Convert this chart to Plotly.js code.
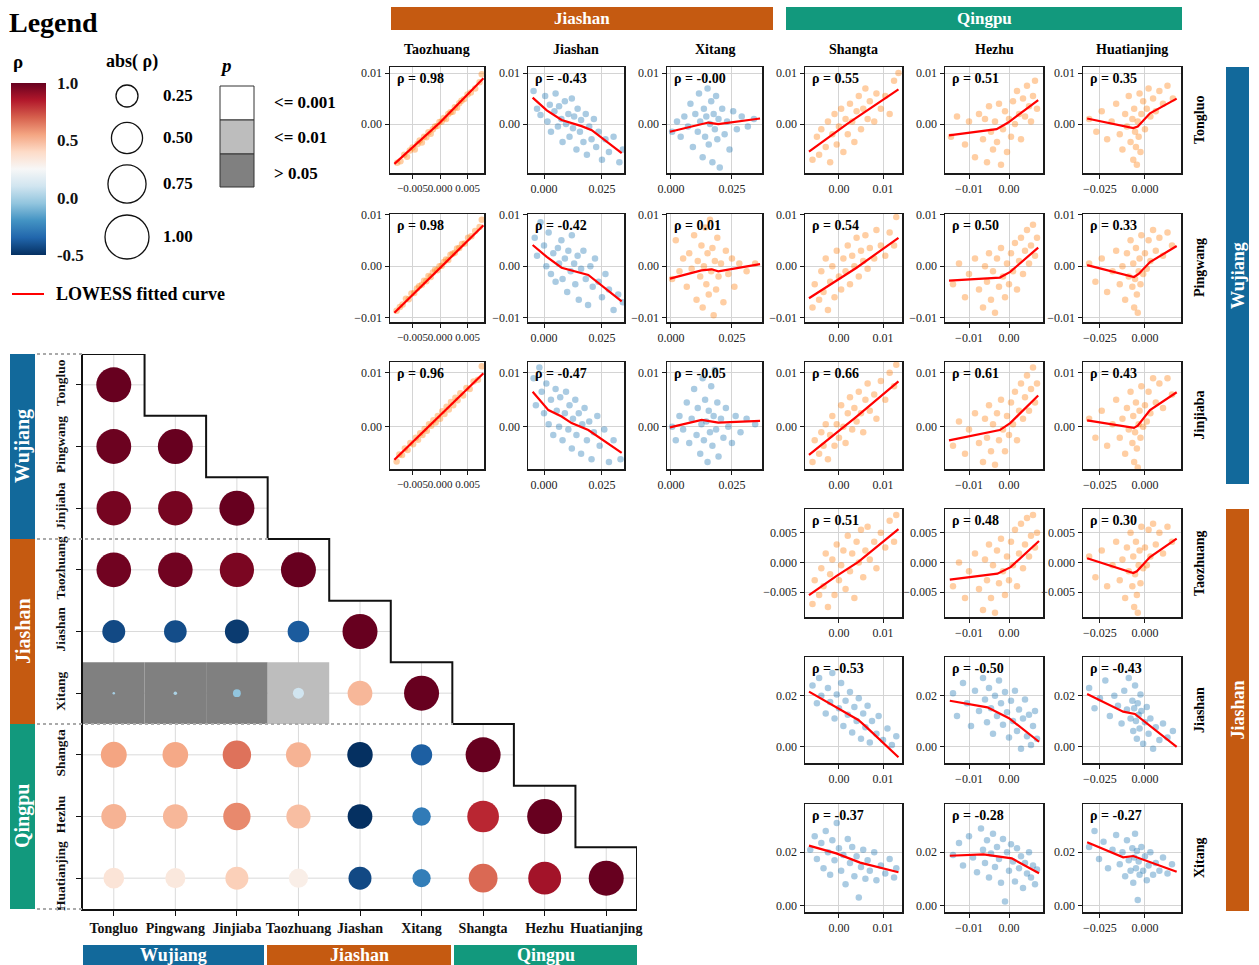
<!DOCTYPE html>
<html><head><meta charset="utf-8">
<script src="https://cdn.plot.ly/plotly-3.0.1.min.js"></script>
<style>html,body{margin:0;padding:0;background:#fff}</style>
</head><body><div id="chart" style="width:1259px;height:965px"></div>
<script>
// ---------------- DATA ----------------
const stations = ['Tongluo','Pingwang','Jinjiaba','Taozhuang','Jiashan','Xitang','Shangta','Hezhu','Huatianjing'];
const groupNames = ['Wujiang','Jiashan','Qingpu'];
const groupColors = {Wujiang:'#12699b', Jiashan:'#c55a11', Qingpu:'#12997d'};

// lower-triangle Spearman rho (row = y station, col = x station)
const rhoMatrix = [
  [1.00],
  [0.99, 1.00],
  [0.97, 0.97, 1.00],
  [0.98, 0.98, 0.96, 1.00],
  [-0.43, -0.42, -0.47, -0.38, 1.00],
  [-0.003, 0.01, -0.05, 0.10, 0.50, 1.00],
  [0.55, 0.54, 0.66, 0.51, -0.53, -0.37, 1.00],
  [0.51, 0.50, 0.61, 0.48, -0.50, -0.28, 0.82, 1.00],
  [0.35, 0.33, 0.43, 0.30, -0.43, -0.27, 0.68, 0.88, 1.00]
];
// p-value class: 0 = <=0.001, 1 = <=0.01, 2 = >0.05
const pClassMatrix = [
  [0],[0,0],[0,0,0],[0,0,0,0],[0,0,0,0,0],
  [2,2,2,1,0,0],
  [0,0,0,0,0,0,0],[0,0,0,0,0,0,0,0],[0,0,0,0,0,0,0,0,0]
];
const legendRhoTicks = [-0.5, 0.0, 0.5, 1.0];
const legendAbsRho = [0.25, 0.50, 0.75, 1.00];
const legendP = ['<= 0.001', '<= 0.01', '> 0.05'];
const legendPColors = ['#ffffff', '#bdbdbd', '#808080'];

// scatter grids
const panelRowNames = ['Tongluo','Pingwang','Jinjiaba','Taozhuang','Jiashan','Xitang'];
const panelColNames = ['Taozhuang','Jiashan','Xitang','Shangta','Hezhu','Huatianjing'];
const rhoTongluo   = [0.98, -0.43, -0.004, 0.55, 0.51, 0.35];
const rhoPingwang  = [0.98, -0.42, 0.01, 0.54, 0.50, 0.33];
const rhoJinjiaba  = [0.96, -0.47, -0.05, 0.66, 0.61, 0.43];
const rhoTaozhuang = [0.51, 0.48, 0.30];
const rhoJiashan   = [-0.53, -0.50, -0.43];
const rhoXitang    = [-0.37, -0.28, -0.27];

// tick labels of the scatter panels
const colTicks = [[-0.005,0,0.005],[0,0.025],[0,0.025],[0,0.01],[-0.01,0],[-0.025,0]];
const colTickText = [['\u22120.005','0.000','0.005'],['0.000','0.025'],['0.000','0.025'],['0.00','0.01'],['\u22120.01','0.00'],['\u22120.025','0.000']];
const rowTicks = [[0,0.01],[-0.01,0,0.01],[0,0.01],[-0.005,0,0.005],[0,0.02],[0,0.02]];
const rowTickText = [['0.00','0.01'],['\u22120.01','0.00','0.01'],['0.00','0.01'],['\u22120.005','0.000','0.005'],['0.00','0.02'],['0.00','0.02']];

// scatter clouds, values in units of 1e-3  [x, y]
const pts_Tongluo_Taozhuang = [[-7.8,-7.6],[-7.2,-7.3],[-6.5,-6.0],[-6.0,-6.4],[-5.5,-5.2],[-5.0,-4.6],[-4.6,-5.0],[-4.1,-3.9],[-3.7,-3.2],[-3.3,-3.6],[-2.9,-2.5],[-2.5,-2.6],[-2.1,-1.6],[-1.7,-1.9],[-1.3,-1.0],[-0.9,-0.5],[-0.5,-0.4],[-0.1,0.4],[0.3,0.5],[0.7,1.2],[1.1,1.0],[1.5,2.0],[1.9,2.3],[2.3,2.4],[2.7,3.3],[3.1,3.2],[3.5,4.1],[3.9,4.6],[4.4,4.9],[5.0,5.8],[5.6,6.2],[6.4,7.0],[7.2,8.2],[7.6,9.8]];
const pts_Tongluo_Jiashan = [[-4.5,6.5],[-3.0,3.0],[-1.5,1.8],[0.5,5.5],[1.5,0.5],[2.5,3.8],[3.0,-1.5],[4.5,2.5],[5.0,6.0],[6.0,-0.5],[6.5,3.5],[7.5,1.0],[8.0,-3.5],[9.0,4.5],[9.5,0.0],[10.5,2.0],[11.0,-2.5],[12.0,5.0],[12.5,-0.8],[13.0,1.5],[14.0,-5.0],[14.5,3.0],[15.5,-1.5],[16.0,0.8],[17.0,-3.5],[18.0,2.0],[18.5,-6.0],[19.5,-0.5],[20.5,-3.0],[21.5,1.0],[22.5,-4.5],[23.5,-1.5],[25.0,-7.0],[26.5,-3.0],[28.0,-5.5],[30.0,-2.5],[32.5,-7.5],[34.0,-5.0]];
const pts_Tongluo_Xitang = [[0.5,-1.5],[2.5,0.5],[4.0,-2.5],[5.5,1.5],[7.0,-0.5],[8.0,4.0],[9.0,-4.5],[10.0,2.0],[11.0,-1.5],[11.5,6.0],[12.0,0.5],[13.0,-6.5],[13.5,3.0],[14.0,-2.5],[14.5,1.5],[15.0,7.0],[15.5,-4.0],[16.0,0.0],[16.5,4.5],[17.0,-7.5],[17.5,2.0],[18.0,-1.0],[18.5,5.5],[19.0,-3.0],[19.5,1.0],[20.0,-8.5],[21.0,3.0],[22.0,-2.0],[23.0,0.5],[24.0,-5.0],[25.5,2.5],[27.0,-1.0],[29.0,1.5],[31.5,-0.5],[34.0,1.0]];
const pts_Tongluo_Shangta = [[-6.0,-7.0],[-5.0,-2.5],[-4.5,-6.0],[-4.0,-1.0],[-3.0,-4.5],[-2.5,0.5],[-2.0,-7.5],[-1.5,-2.0],[-1.0,2.0],[-0.5,-4.0],[0.0,-0.5],[0.5,3.0],[1.0,-5.5],[1.5,1.0],[2.0,-2.0],[2.5,4.0],[3.0,0.5],[3.5,-3.5],[4.0,2.5],[4.5,5.5],[5.0,-1.0],[5.5,3.0],[6.0,7.0],[6.5,1.0],[7.0,4.5],[8.0,0.5],[8.5,6.0],[9.5,3.0],[10.5,5.5],[11.5,2.0],[12.5,8.5],[13.5,10.0]];
const pts_Tongluo_Hezhu = [[-14.5,-2.5],[-13.0,1.5],[-11.0,-4.0],[-10.0,0.5],[-8.5,-6.5],[-7.5,2.0],[-6.5,-3.0],[-6.0,1.0],[-5.5,-7.5],[-5.0,3.5],[-4.5,-1.5],[-4.0,-5.0],[-3.5,0.5],[-3.0,-3.5],[-2.5,4.0],[-2.0,-8.0],[-1.5,-1.0],[-1.0,2.5],[-0.5,-5.5],[0.0,1.0],[0.5,-2.5],[1.0,4.5],[1.5,0.0],[2.0,6.5],[2.5,2.0],[3.0,-3.0],[3.5,5.0],[4.0,1.5],[4.5,7.5],[5.0,3.5],[5.5,0.5],[6.0,5.5],[6.5,8.5],[7.0,3.0]];
const pts_Tongluo_Huatianjing = [[-31.0,1.0],[-27.0,-1.5],[-24.0,2.5],[-21.0,-3.0],[-18.5,0.5],[-16.0,4.0],[-14.0,-2.0],[-12.5,-5.0],[-11.0,2.0],[-10.0,-0.5],[-9.0,5.5],[-8.0,-3.5],[-7.0,1.0],[-6.5,-7.0],[-6.0,3.0],[-5.5,-1.5],[-5.0,-4.5],[-4.5,-8.0],[-4.0,0.5],[-3.5,-2.5],[-3.0,6.0],[-2.5,-5.5],[-2.0,2.0],[-1.0,4.5],[0.0,-1.0],[1.0,3.0],[2.0,7.0],[3.0,1.5],[4.5,5.0],[6.0,2.5],[8.0,6.5],[10.0,4.0],[12.5,7.5],[15.5,5.0]];

const pts_Pingwang_Taozhuang = [[-7.9,-8.6],[-7.3,-7.9],[-6.8,-7.4],[-6.2,-6.3],[-5.7,-6.4],[-5.2,-5.3],[-4.7,-5.2],[-4.2,-4.3],[-3.8,-3.9],[-3.3,-3.6],[-2.9,-2.8],[-2.5,-2.9],[-2.1,-1.9],[-1.7,-2.1],[-1.3,-1.2],[-0.9,-0.7],[-0.5,-0.8],[-0.1,0.0],[0.3,0.1],[0.7,0.8],[1.1,1.3],[1.5,1.2],[1.9,2.2],[2.3,2.4],[2.7,2.6],[3.1,3.4],[3.5,3.5],[4.0,4.3],[4.5,4.4],[5.1,5.5],[5.7,5.8],[6.4,6.8],[7.2,7.6],[7.6,9.0]];
const pts_Pingwang_Jiashan = [[-4.0,5.5],[-3.0,2.0],[-1.5,8.5],[0.0,4.0],[1.0,0.0],[2.0,6.5],[3.0,-1.5],[4.0,2.5],[5.0,-3.0],[6.0,3.5],[6.5,0.5],[7.5,5.0],[8.0,-2.5],[9.0,1.5],[10.0,-5.0],[10.5,3.0],[11.5,-1.0],[12.0,6.0],[13.0,0.5],[13.5,-3.5],[14.5,2.0],[15.0,-6.5],[16.0,-0.5],[17.0,3.0],[18.0,-2.5],[19.0,-7.5],[20.0,0.0],[21.0,-4.0],[22.0,1.5],[23.5,-3.0],[25.0,-6.0],[26.5,-1.5],[28.0,-4.5],[30.0,-8.5],[32.0,-5.5],[34.0,-7.0]];
const pts_Pingwang_Xitang = [[0.5,-2.5],[2.0,5.0],[3.5,-1.0],[5.0,1.5],[6.5,-4.0],[7.5,2.5],[8.5,-0.5],[9.5,6.0],[10.5,-6.5],[11.0,1.0],[12.0,-2.0],[12.5,4.0],[13.0,-8.0],[13.5,0.0],[14.0,7.5],[14.5,-3.5],[15.0,2.5],[15.5,-5.5],[16.0,9.0],[16.5,-1.0],[17.0,3.5],[17.5,-9.5],[18.0,1.0],[18.5,-4.5],[19.0,5.5],[19.5,-2.0],[20.5,0.5],[21.5,-7.0],[22.5,3.0],[23.5,-1.5],[25.0,1.5],[26.0,-4.0],[28.0,0.5],[31.0,-1.0],[34.5,0.5]];
const pts_Pingwang_Shangta = [[-6.0,-8.0],[-5.5,-3.5],[-4.5,-6.5],[-4.0,-1.0],[-3.5,-5.0],[-3.0,1.5],[-2.5,-8.5],[-2.0,-3.0],[-1.5,0.0],[-1.0,-6.0],[-0.5,3.0],[0.0,-2.0],[0.5,-4.5],[1.0,1.5],[1.5,-1.0],[2.0,4.0],[2.5,-3.5],[3.0,2.0],[3.5,0.0],[4.0,5.5],[4.5,-2.0],[5.0,3.0],[5.5,1.0],[6.0,6.0],[6.5,-0.5],[7.0,3.5],[8.0,1.5],[8.5,7.0],[9.5,4.0],[10.5,2.0],[11.5,6.5],[12.5,4.0],[13.0,9.5]];
const pts_Pingwang_Hezhu = [[-14.0,-3.5],[-12.5,0.5],[-11.0,-6.0],[-10.0,-1.5],[-8.5,1.5],[-7.5,-4.5],[-6.5,-8.0],[-6.0,0.0],[-5.5,-3.0],[-5.0,2.5],[-4.5,-6.5],[-4.0,-1.0],[-3.5,-9.0],[-3.0,1.5],[-2.5,-4.0],[-2.0,3.5],[-1.5,-2.0],[-1.0,-6.0],[-0.5,0.5],[0.0,-3.5],[0.5,2.5],[1.0,-1.0],[1.5,4.5],[2.0,-4.5],[2.5,1.0],[3.0,5.5],[3.5,-1.5],[4.0,3.0],[4.5,7.0],[5.0,0.5],[5.5,4.0],[6.0,8.0],[6.5,2.0],[7.0,5.5]];
const pts_Pingwang_Huatianjing = [[-31.0,0.5],[-27.5,-3.0],[-24.0,1.5],[-21.0,-5.0],[-18.0,-1.0],[-16.0,3.0],[-14.0,-3.5],[-12.5,0.0],[-11.0,-6.5],[-10.0,2.5],[-9.0,-2.0],[-8.0,5.0],[-7.0,-4.0],[-6.5,0.5],[-6.0,-8.0],[-5.5,-2.5],[-5.0,3.5],[-4.5,-5.5],[-4.0,-9.0],[-3.5,-1.0],[-3.0,1.5],[-2.5,-3.5],[-2.0,6.0],[-1.0,-1.5],[0.0,2.5],[1.0,-0.5],[2.0,5.0],[3.0,1.0],[4.5,7.0],[6.0,3.0],[8.0,5.5],[10.0,2.0],[12.5,6.5],[15.0,4.0]];

const pts_Jinjiaba_Taozhuang = [[-7.9,-6.4],[-7.4,-5.1],[-6.9,-5.2],[-6.4,-4.0],[-5.9,-4.3],[-5.4,-3.0],[-4.9,-3.2],[-4.4,-2.0],[-4.0,-2.4],[-3.6,-1.2],[-3.2,-1.5],[-2.8,-0.4],[-2.4,-0.7],[-2.0,0.5],[-1.6,0.2],[-1.2,1.2],[-0.8,0.8],[-0.4,2.0],[0.0,1.5],[0.4,2.9],[0.8,2.4],[1.2,3.7],[1.6,3.2],[2.0,4.6],[2.4,4.0],[2.8,5.4],[3.2,4.9],[3.7,6.2],[4.2,5.8],[4.8,7.2],[5.4,7.0],[6.1,8.4],[6.9,8.7],[7.6,11.2]];
const pts_Jinjiaba_Jiashan = [[-4.5,9.0],[-3.5,4.0],[-2.0,11.0],[-1.0,6.5],[0.0,2.5],[1.0,8.0],[2.0,0.5],[3.0,5.0],[4.0,-1.5],[5.0,7.0],[5.5,3.0],[6.5,0.0],[7.0,5.5],[8.0,-2.5],[9.0,2.5],[9.5,6.5],[10.5,-0.5],[11.0,4.0],[12.0,-4.0],[12.5,1.5],[13.5,5.0],[14.0,-1.5],[15.0,2.5],[16.0,-5.0],[16.5,0.5],[17.5,3.5],[18.5,-2.5],[19.5,1.0],[20.5,-6.0],[21.5,-1.0],[23.0,2.0],[24.0,-3.5],[26.0,-0.5],[28.0,-6.5],[30.0,-2.5],[33.0,-6.0]];
const pts_Jinjiaba_Xitang = [[0.5,0.0],[2.0,-2.5],[3.5,2.0],[5.0,-0.5],[6.5,4.5],[7.5,-3.0],[8.5,1.5],[9.5,7.0],[10.5,-1.5],[11.0,3.5],[12.0,-5.0],[12.5,0.5],[13.0,9.0],[13.5,-2.5],[14.0,5.0],[14.5,1.0],[15.0,-6.5],[15.5,3.0],[16.0,-1.0],[16.5,7.5],[17.0,-3.5],[17.5,2.0],[18.0,10.5],[18.5,-0.5],[19.0,4.5],[19.5,-5.5],[20.5,1.5],[21.5,-2.0],[22.5,3.5],[23.5,0.0],[25.0,-3.0],[26.5,2.0],[28.5,-1.0],[31.0,1.5],[34.5,0.5]];
const pts_Jinjiaba_Shangta = [[-6.0,-6.5],[-5.5,-2.5],[-4.5,-5.0],[-4.0,-1.0],[-3.5,-3.5],[-3.0,0.5],[-2.5,-6.0],[-2.0,-1.5],[-1.5,2.0],[-1.0,-3.5],[-0.5,0.5],[0.0,-2.0],[0.5,4.0],[1.0,0.0],[1.5,-3.0],[2.0,2.5],[2.5,5.5],[3.0,-0.5],[3.5,3.5],[4.0,1.0],[4.5,6.5],[5.0,2.5],[5.5,-1.0],[6.0,5.0],[6.5,8.0],[7.0,3.0],[8.0,6.0],[8.5,1.5],[9.5,8.5],[10.5,5.0],[11.5,10.0],[12.5,7.5],[13.0,11.5]];
const pts_Jinjiaba_Hezhu = [[-14.0,-3.5],[-12.5,1.0],[-11.0,-5.0],[-10.0,-0.5],[-8.5,2.5],[-7.5,-3.0],[-6.5,-6.5],[-6.0,1.5],[-5.5,-2.0],[-5.0,4.0],[-4.5,-4.5],[-4.0,0.5],[-3.5,-7.0],[-3.0,2.5],[-2.5,-2.5],[-2.0,5.0],[-1.5,-0.5],[-1.0,-4.5],[-0.5,2.0],[0.0,-1.5],[0.5,4.5],[1.0,0.5],[1.5,6.5],[2.0,-2.5],[2.5,3.0],[3.0,8.0],[3.5,1.5],[4.0,5.5],[4.5,9.5],[5.0,3.0],[5.5,7.0],[6.0,11.0],[6.5,4.5],[7.0,8.0]];
const pts_Jinjiaba_Huatianjing = [[-31.0,1.5],[-27.5,-2.0],[-24.0,3.0],[-21.0,-3.5],[-18.0,0.5],[-16.0,5.0],[-14.0,-2.0],[-12.5,1.5],[-11.0,-5.0],[-10.0,3.5],[-9.0,-0.5],[-8.0,6.5],[-7.0,-3.0],[-6.5,2.0],[-6.0,-6.5],[-5.5,-1.0],[-5.0,4.5],[-4.5,-4.0],[-4.0,-7.5],[-3.5,0.5],[-3.0,3.0],[-2.5,-2.0],[-2.0,7.5],[-1.0,0.0],[0.0,4.0],[1.0,1.0],[2.0,6.5],[3.0,2.5],[4.5,9.0],[6.0,4.5],[8.0,8.0],[10.0,3.5],[12.5,9.0],[15.0,6.0]];

const pts_Taozhuang_Shangta = [[-6.0,-7.0],[-5.5,-3.0],[-4.5,-5.5],[-4.0,-1.0],[-3.5,-4.0],[-3.0,1.5],[-2.5,-7.5],[-2.0,-2.0],[-1.5,0.5],[-1.0,-5.5],[-0.5,3.0],[0.0,-3.0],[0.5,-0.5],[1.0,2.0],[1.5,-4.5],[2.0,4.5],[2.5,-1.5],[3.0,1.5],[3.5,-6.0],[4.0,3.5],[4.5,0.0],[5.0,5.5],[5.5,-2.5],[6.0,2.0],[6.5,6.0],[7.0,0.5],[8.0,3.5],[8.5,-1.0],[9.5,5.0],[10.5,2.5],[11.5,7.0],[12.5,3.5],[13.0,8.0]];
const pts_Taozhuang_Hezhu = [[-14.0,-4.0],[-12.5,0.0],[-11.0,-6.0],[-10.0,-1.5],[-8.5,1.5],[-7.5,-4.5],[-6.5,-8.0],[-6.0,0.5],[-5.5,-3.0],[-5.0,3.0],[-4.5,-6.0],[-4.0,-0.5],[-3.5,-8.5],[-3.0,2.0],[-2.5,-3.5],[-2.0,4.0],[-1.5,-1.5],[-1.0,-5.5],[-0.5,1.0],[0.0,-3.0],[0.5,3.5],[1.0,-0.5],[1.5,5.5],[2.0,-4.0],[2.5,1.5],[3.0,6.5],[3.5,-1.0],[4.0,3.0],[4.5,7.5],[5.0,1.0],[5.5,4.5],[6.0,8.0],[6.5,2.5],[7.0,5.0]];
const pts_Taozhuang_Huatianjing = [[-31.0,1.0],[-27.5,-2.5],[-24.0,2.0],[-21.0,-4.0],[-18.0,-0.5],[-16.0,3.5],[-14.0,-3.0],[-12.5,0.5],[-11.0,-6.0],[-10.0,2.5],[-9.0,-1.5],[-8.0,5.0],[-7.0,-4.0],[-6.5,1.0],[-6.0,-7.5],[-5.5,-2.0],[-5.0,3.5],[-4.5,-5.5],[-4.0,-8.5],[-3.5,-0.5],[-3.0,2.0],[-2.5,-3.5],[-2.0,6.0],[-1.0,-1.0],[0.0,2.5],[1.0,-0.5],[2.0,5.5],[3.0,1.0],[4.5,6.5],[6.0,3.0],[8.0,5.0],[10.0,1.5],[12.5,6.0],[15.0,3.5]];

const pts_Jiashan_Shangta = [[-6.0,24.0],[-5.0,17.0],[-4.5,27.0],[-4.0,20.0],[-3.0,13.0],[-2.5,23.0],[-2.0,17.5],[-1.5,29.0],[-1.0,11.0],[-0.5,20.5],[0.0,15.0],[0.5,25.0],[1.0,8.0],[1.5,18.0],[2.0,12.5],[2.5,21.5],[3.0,5.5],[3.5,15.5],[4.0,10.0],[4.5,19.0],[5.0,3.0],[5.5,13.0],[6.0,7.5],[6.5,16.0],[7.0,1.5],[7.5,10.0],[8.5,5.0],[9.0,12.0],[10.0,2.5],[11.0,7.0],[12.0,0.5],[13.0,4.0]];
const pts_Jiashan_Hezhu = [[-14.0,21.0],[-13.0,12.0],[-11.5,25.0],[-10.5,17.0],[-9.5,8.0],[-8.5,22.0],[-7.5,14.0],[-6.5,27.0],[-6.0,18.5],[-5.5,9.5],[-5.0,23.0],[-4.5,15.0],[-4.0,5.0],[-3.5,20.0],[-3.0,12.0],[-2.5,26.0],[-2.0,17.0],[-1.5,8.5],[-1.0,21.5],[-0.5,13.5],[0.0,3.5],[0.5,18.0],[1.0,10.0],[1.5,22.0],[2.0,6.0],[2.5,14.5],[3.0,-1.0],[3.5,11.0],[4.0,18.5],[4.5,4.0],[5.0,12.5],[5.5,0.5],[6.0,8.0],[6.5,14.0],[7.0,3.0]];
const pts_Jiashan_Huatianjing = [[-31.0,23.0],[-28.0,15.0],[-25.0,19.0],[-22.0,26.0],[-19.5,12.0],[-17.0,20.0],[-15.0,16.0],[-13.0,9.0],[-11.5,22.0],[-10.0,14.5],[-9.0,27.0],[-8.0,11.0],[-7.0,18.0],[-6.5,6.0],[-6.0,15.0],[-5.5,24.0],[-5.0,10.0],[-4.5,3.0],[-4.0,17.0],[-3.5,12.5],[-3.0,7.0],[-2.5,20.5],[-2.0,14.0],[-1.0,1.0],[0.0,9.5],[1.0,15.5],[2.0,5.0],[3.0,11.0],[4.5,-1.0],[6.0,7.5],[8.0,2.5],[10.0,9.0],[12.5,3.5],[15.5,6.0]];

const pts_Xitang_Shangta = [[-6.5,21.0],[-5.5,26.0],[-5.0,17.5],[-4.0,23.5],[-3.5,14.0],[-3.0,28.0],[-2.5,20.0],[-2.0,11.5],[-1.5,24.5],[-1.0,17.0],[-0.5,31.0],[0.0,21.5],[0.5,13.0],[1.0,19.0],[1.5,8.0],[2.0,25.0],[2.5,16.0],[3.0,22.0],[3.5,11.0],[4.0,18.5],[4.5,3.0],[5.0,14.5],[5.5,21.0],[6.0,10.0],[6.5,17.0],[7.0,13.0],[8.0,20.0],[8.5,9.5],[9.5,15.0],[10.5,12.0],[11.5,17.5],[12.5,10.5],[13.0,14.0]];
const pts_Xitang_Hezhu = [[-14.0,19.0],[-12.5,23.5],[-11.5,15.0],[-10.0,26.0],[-9.0,18.0],[-8.0,12.5],[-7.0,29.0],[-6.5,21.0],[-6.0,16.0],[-5.5,24.5],[-5.0,10.5],[-4.5,19.5],[-4.0,27.0],[-3.5,14.5],[-3.0,22.0],[-2.5,17.5],[-2.0,8.5],[-1.5,25.0],[-1.0,1.5],[-0.5,20.0],[0.0,13.0],[0.5,23.0],[1.0,16.5],[1.5,9.0],[2.0,21.5],[2.5,14.0],[3.0,18.5],[3.5,6.5],[4.0,16.0],[4.5,12.0],[5.0,20.0],[5.5,10.5],[6.0,15.0],[6.5,8.0],[7.0,13.5]];
const pts_Xitang_Huatianjing = [[-31.0,22.0],[-28.0,28.0],[-25.5,17.5],[-23.0,24.0],[-20.5,14.0],[-18.0,21.0],[-16.0,26.5],[-14.0,15.5],[-12.5,20.0],[-11.0,11.0],[-10.0,24.5],[-9.0,17.0],[-8.0,13.0],[-7.0,21.5],[-6.5,8.5],[-6.0,18.0],[-5.5,27.0],[-5.0,14.0],[-4.5,20.5],[-4.0,2.0],[-3.5,16.5],[-3.0,11.5],[-2.0,22.0],[-1.0,13.0],[0.0,18.5],[1.0,9.5],[2.0,15.0],[3.0,20.0],[4.5,11.5],[6.0,16.0],[8.0,13.0],[10.0,18.0],[12.5,12.0],[15.0,15.5]];

// LOWESS fitted curves, units of 1e-3  [x, y]
const lo_Tongluo_Taozhuang = [[-8.3,-7.8],[0,0.3],[7.9,9.0]];
const lo_Tongluo_Jiashan = [[-4.9,5.2],[1.2,2.7],[7.6,0.8],[16.2,-0.4],[20.6,-1.2],[33.5,-5.7]];
const lo_Tongluo_Xitang = [[-0.4,-1.5],[15.3,0.3],[19.4,0.0],[36.5,1.1]];
const lo_Tongluo_Shangta = [[-6.8,-5.4],[1.8,0.0],[13.5,6.8]];
const lo_Tongluo_Hezhu = [[-15,-2.2],[-3.1,-1.0],[-0.2,0.3],[7.3,4.7]];
const lo_Tongluo_Huatianjing = [[-32.1,1.1],[-6.5,-0.8],[-4.0,-0.5],[2.8,2.1],[17.6,5.0]];
const lo_Pingwang_Taozhuang = [[-8.3,-9.0],[7.9,7.9]];
const lo_Pingwang_Jiashan = [[-4.9,4.1],[1.2,1.8],[7.6,-0.3],[11.9,-0.8],[19.1,-1.7],[33.5,-6.8]];
const lo_Pingwang_Xitang = [[-0.4,-2.4],[12.5,-0.8],[16.7,-0.6],[19.4,-1.0],[36.5,0.4]];
const lo_Pingwang_Shangta = [[-6.8,-6.2],[4.0,-0.3],[13.5,5.5]];
const lo_Pingwang_Hezhu = [[-15,-2.8],[-2.3,-2.2],[0.3,-1.1],[7.3,3.6]];
const lo_Pingwang_Huatianjing = [[-32.1,0.2],[-6.1,-2.1],[-3.5,-1.5],[2.8,0.8],[17.6,3.9]];
const lo_Jinjiaba_Taozhuang = [[-8.3,-6.1],[7.9,9.9]];
const lo_Jinjiaba_Jiashan = [[-4.9,6.5],[1.9,3.1],[7.6,1.9],[11.9,0.7],[19.1,-0.6],[33.5,-4.8]];
const lo_Jinjiaba_Xitang = [[-0.4,-0.1],[12.6,1.3],[19.4,0.8],[36.5,1.1]];
const lo_Jinjiaba_Shangta = [[-6.8,-5.2],[4.0,1.9],[13.5,8.4]];
const lo_Jinjiaba_Hezhu = [[-15,-2.5],[-2.3,-0.6],[0.3,0.7],[7.3,5.8]];
const lo_Jinjiaba_Huatianjing = [[-32.1,1.2],[-6.1,-0.2],[-4.0,0.2],[2.8,3.1],[17.6,6.4]];
const lo_Taozhuang_Shangta = [[-6.8,-5.5],[-0.6,-2.3],[4.4,0.1],[13.5,5.6]];
const lo_Taozhuang_Hezhu = [[-14.8,-2.9],[-2.9,-1.9],[0.4,-0.8],[7.5,3.6]];
const lo_Taozhuang_Huatianjing = [[-32.1,0.7],[-6.5,-1.8],[-4.5,-1.5],[2.8,0.9],[17.6,4.0]];
const lo_Jiashan_Shangta = [[-6.8,21.6],[4.4,10.4],[6.3,7.5],[13.5,-4.3]];
const lo_Jiashan_Hezhu = [[-14.8,18.0],[-5.4,15.4],[0,11.1],[7.5,1.8]];
const lo_Jiashan_Huatianjing = [[-32.1,20.7],[-12.1,13.7],[-5.6,12.8],[17.6,-0.2]];
const lo_Xitang_Shangta = [[-6.8,22.5],[-0.6,19.6],[4.8,16.1],[13.5,12.5]];
const lo_Xitang_Hezhu = [[-14.8,18.7],[-6.4,19.2],[0.7,17.7],[7.5,12.1]];
const lo_Xitang_Huatianjing = [[-32.1,23.8],[-12.1,18.1],[-6.5,18.6],[17.6,12.7]];

// ---------------- LAYOUT GEOMETRY (pixels) ----------------
const W = 1259, H = 965, U = 1e-3;
const px = v => v / W, py = v => 1 - v / H;
const SERIF = '"Liberation Serif", "Times New Roman", Times, serif';
const ORANGE = '#ff7f0e', BLUE = '#1f77b4';
const colPx = [[390,484],[528,624],[667,762],[805,902],[945,1043],[1083,1181]];
const rowPx = [[67,173],[214,322],[362,469],[509,617],[657,763],[804,912]];
const colRange = [[-0.0091,0.0080],[-0.0069,0.0345],[-0.0016,0.0373],[-0.0077,0.0143],[-0.016,0.0085],[-0.0344,0.020]];
const rowRange = [[-0.0096,0.0112],[-0.0108,0.0101],[-0.0078,0.0120],[-0.0092,0.0090],[-0.0066,0.0353],[-0.0025,0.0382]];
const colTickSize = [11, 12, 12, 12, 12, 12];

const panels = [
  {r:0,c:0,pts:pts_Tongluo_Taozhuang,lo:lo_Tongluo_Taozhuang,rho:rhoTongluo[0]},
  {r:0,c:1,pts:pts_Tongluo_Jiashan,lo:lo_Tongluo_Jiashan,rho:rhoTongluo[1]},
  {r:0,c:2,pts:pts_Tongluo_Xitang,lo:lo_Tongluo_Xitang,rho:rhoTongluo[2]},
  {r:0,c:3,pts:pts_Tongluo_Shangta,lo:lo_Tongluo_Shangta,rho:rhoTongluo[3]},
  {r:0,c:4,pts:pts_Tongluo_Hezhu,lo:lo_Tongluo_Hezhu,rho:rhoTongluo[4]},
  {r:0,c:5,pts:pts_Tongluo_Huatianjing,lo:lo_Tongluo_Huatianjing,rho:rhoTongluo[5]},
  {r:1,c:0,pts:pts_Pingwang_Taozhuang,lo:lo_Pingwang_Taozhuang,rho:rhoPingwang[0]},
  {r:1,c:1,pts:pts_Pingwang_Jiashan,lo:lo_Pingwang_Jiashan,rho:rhoPingwang[1]},
  {r:1,c:2,pts:pts_Pingwang_Xitang,lo:lo_Pingwang_Xitang,rho:rhoPingwang[2]},
  {r:1,c:3,pts:pts_Pingwang_Shangta,lo:lo_Pingwang_Shangta,rho:rhoPingwang[3]},
  {r:1,c:4,pts:pts_Pingwang_Hezhu,lo:lo_Pingwang_Hezhu,rho:rhoPingwang[4]},
  {r:1,c:5,pts:pts_Pingwang_Huatianjing,lo:lo_Pingwang_Huatianjing,rho:rhoPingwang[5]},
  {r:2,c:0,pts:pts_Jinjiaba_Taozhuang,lo:lo_Jinjiaba_Taozhuang,rho:rhoJinjiaba[0]},
  {r:2,c:1,pts:pts_Jinjiaba_Jiashan,lo:lo_Jinjiaba_Jiashan,rho:rhoJinjiaba[1]},
  {r:2,c:2,pts:pts_Jinjiaba_Xitang,lo:lo_Jinjiaba_Xitang,rho:rhoJinjiaba[2]},
  {r:2,c:3,pts:pts_Jinjiaba_Shangta,lo:lo_Jinjiaba_Shangta,rho:rhoJinjiaba[3]},
  {r:2,c:4,pts:pts_Jinjiaba_Hezhu,lo:lo_Jinjiaba_Hezhu,rho:rhoJinjiaba[4]},
  {r:2,c:5,pts:pts_Jinjiaba_Huatianjing,lo:lo_Jinjiaba_Huatianjing,rho:rhoJinjiaba[5]},
  {r:3,c:3,pts:pts_Taozhuang_Shangta,lo:lo_Taozhuang_Shangta,rho:rhoTaozhuang[0]},
  {r:3,c:4,pts:pts_Taozhuang_Hezhu,lo:lo_Taozhuang_Hezhu,rho:rhoTaozhuang[1]},
  {r:3,c:5,pts:pts_Taozhuang_Huatianjing,lo:lo_Taozhuang_Huatianjing,rho:rhoTaozhuang[2]},
  {r:4,c:3,pts:pts_Jiashan_Shangta,lo:lo_Jiashan_Shangta,rho:rhoJiashan[0]},
  {r:4,c:4,pts:pts_Jiashan_Hezhu,lo:lo_Jiashan_Hezhu,rho:rhoJiashan[1]},
  {r:4,c:5,pts:pts_Jiashan_Huatianjing,lo:lo_Jiashan_Huatianjing,rho:rhoJiashan[2]},
  {r:5,c:3,pts:pts_Xitang_Shangta,lo:lo_Xitang_Shangta,rho:rhoXitang[0]},
  {r:5,c:4,pts:pts_Xitang_Hezhu,lo:lo_Xitang_Hezhu,rho:rhoXitang[1]},
  {r:5,c:5,pts:pts_Xitang_Huatianjing,lo:lo_Xitang_Huatianjing,rho:rhoXitang[2]}
];

// RdBu_r colour scale
const RdBu_r = [[0,'#053061'],[0.1,'#2166ac'],[0.2,'#4393c3'],[0.3,'#92c5de'],[0.4,'#d1e5f0'],[0.5,'#f7f7f7'],[0.6,'#fddbc7'],[0.7,'#f4a582'],[0.8,'#d6604d'],[0.9,'#b2182b'],[1,'#67001f']];

const traces = [];
const shapes = [];
const annotations = [];
const font = (size, color, weight) => ({family: SERIF, size: size, color: color || '#000', weight: weight || 'normal'});
// paper-positioned text in pixel coordinates, anchored as given (default centre/middle)
const text = (x, y, t, f, extra) => annotations.push(Object.assign({xref:'paper', yref:'paper', x:px(x), y:py(y),
  xanchor:'center', yanchor:'middle', text:t, showarrow:false, font:f}, extra || {}));

const layout = {
  width: W, height: H, margin: {l:0, r:0, t:0, b:0, autoexpand:false},
  paper_bgcolor: '#fff', plot_bgcolor: '#fff', showlegend: false,
  font: {family: SERIF}
};

// ---------------- CORRELATION MATRIX ----------------
const N = stations.length;
const mx = [], my = [], mc = [], ms = [];
rhoMatrix.forEach((row, i) => row.forEach((v, j) => {
  mx.push(j); my.push(i); mc.push(v); ms.push(Math.max(2.5, 35 * Math.sqrt(Math.abs(v))));
}));
layout.xaxis = {domain:[px(83), px(637)], range:[-0.5, N-0.5], anchor:'y', tickmode:'array',
  tickvals: stations.map((s,i)=>i), ticktext: stations, ticks:'outside', ticklen:5, tickcolor:'#111',
  showline:true, linecolor:'#111', linewidth:2, showgrid:false, zeroline:false, tickangle:0,
  tickfont: font(14,'#111','bold'), fixedrange:true};
layout.yaxis = {domain:[py(909), py(354)], range:[N-0.5, -0.5], anchor:'x', tickmode:'array',
  tickvals: stations.map((s,i)=>i), ticktext: stations, ticks:'outside', ticklen:5, tickcolor:'#111',
  showline:true, linecolor:'#111', linewidth:2, showgrid:false, zeroline:false, tickangle:-90,
  ticklabelstandoff:6, tickfont: font(13.5,'#111','bold'), fixedrange:true};

// grid lines clipped to lower triangle
for (let j = 0; j < N; j++) {
  shapes.push({type:'line', xref:'x', yref:'y', x0:j, x1:j, y0:j-0.5, y1:N-0.5, line:{color:'#dadada', width:1}, layer:'below'});
  shapes.push({type:'line', xref:'x', yref:'y', x0:-0.5, x1:j+0.5, y0:j, y1:j, line:{color:'#dadada', width:1}, layer:'below'});
}
// p-value backgrounds
pClassMatrix.forEach((row, i) => row.forEach((c, j) => {
  if (c > 0) shapes.push({type:'rect', xref:'x', yref:'y', x0:j-0.5, x1:j+0.5, y0:i-0.5, y1:i+0.5,
    fillcolor: legendPColors[c], line:{width:0}, layer:'below'});
}));
// staircase outline
let stair = 'M -0.5,-0.5';
for (let i = 0; i < N; i++) stair += ` L ${i+0.5},${i-0.5} L ${i+0.5},${i+0.5}`;
shapes.push({type:'path', xref:'x', yref:'y', path: stair, line:{color:'#111', width:2}, layer:'above'});

// colour bar geometry (px)
const CB = {x0:11, x1:46, top:83, bottom:255};
traces.push({type:'scatter', mode:'markers', x:mx, y:my, xaxis:'x', yaxis:'y', hoverinfo:'skip',
  marker:{size:ms, color:mc, cmin:-0.5, cmax:1.0, colorscale:RdBu_r, opacity:1, line:{width:0},
    showscale:true,
    colorbar:{x:px(CB.x0), xanchor:'left', y:py(CB.top), yanchor:'top', len:CB.bottom-CB.top, lenmode:'pixels',
      thickness:CB.x1-CB.x0, thicknessmode:'pixels', xpad:0, ypad:0, outlinewidth:0,
      tickmode:'array', tickvals:legendRhoTicks, ticktext:legendRhoTicks.map(v=>v.toFixed(1)),
      ticks:'outside', ticklen:8, tickwidth:1, tickcolor:'rgba(255,255,255,0)',
      tickfont: font(17,'#111','bold')}}});
// white tick dashes inside the colour bar (both edges)
legendRhoTicks.forEach(v => {
  const y = CB.bottom - (v + 0.5) / 1.5 * (CB.bottom - CB.top);
  [[CB.x0, CB.x0 + 6], [CB.x1 - 6, CB.x1]].forEach(([a, b]) => shapes.push({type:'line', xref:'paper', yref:'paper',
    x0:px(a), x1:px(b), y0:py(y), y1:py(y), line:{color:'rgba(255,255,255,0.85)', width:1.5}, layer:'above'}));
});

// dotted group separators
[[354,83],[539,268],[724,453],[909,83]].forEach(([y, xEnd]) => {
  shapes.push({type:'line', xref:'paper', yref:'paper', x0:px(37), x1:px(xEnd), y0:py(y), y1:py(y),
    line:{color:'#aaaaaa', width:2, dash:'dot'}, layer:'above'});
});

// group bars (left / bottom of matrix)
const leftBars = [[354,539],[539,724],[724,909]];
groupNames.forEach((g, k) => {
  const [y0, y1] = leftBars[k];
  shapes.push({type:'rect', xref:'paper', yref:'paper', x0:px(10), x1:px(35), y0:py(y1), y1:py(y0), fillcolor:groupColors[g], line:{width:0}, layer:'below'});
  text(22.5, (y0+y1)/2, g, font(20,'#fff','bold'), {textangle:-90});
});
const bottomBars = [[83,264],[267,451],[454,637]];
groupNames.forEach((g, k) => {
  const [x0, x1] = bottomBars[k];
  shapes.push({type:'rect', xref:'paper', yref:'paper', x0:px(x0), x1:px(x1), y0:py(975), y1:py(945), fillcolor:groupColors[g], line:{width:0}, layer:'below'});
  text((x0+x1)/2, 955, g, font(18,'#fff','bold'));
});

// ---------------- SCATTER PANELS ----------------
const axBase = {showline:true, mirror:true, linecolor:'#1a1a1a', linewidth:1.5, ticks:'outside', ticklen:4,
  tickwidth:1, tickcolor:'#1a1a1a', showgrid:true, gridcolor:'#d4d4d4', gridwidth:1, zeroline:false,
  tickfont: font(12,'#222'), tickmode:'array', tickangle:0, fixedrange:true};
panels.forEach((p, k) => {
  const n = k + 2;
  const [c0, c1] = colPx[p.c], [r0, r1] = rowPx[p.r];
  layout['xaxis'+n] = Object.assign({}, axBase, {domain:[px(c0), px(c1)], range:colRange[p.c],
    tickvals:colTicks[p.c], ticktext:colTickText[p.c], anchor:'y'+n, tickfont:font(colTickSize[p.c],'#222')});
  layout['yaxis'+n] = Object.assign({}, axBase, {domain:[py(r1), py(r0)], range:rowRange[p.r],
    tickvals:rowTicks[p.r], ticktext:rowTickText[p.r], anchor:'x'+n});
  const col = p.rho >= 0 ? ORANGE : BLUE;
  traces.push({type:'scatter', mode:'markers', xaxis:'x'+n, yaxis:'y'+n, hoverinfo:'skip', cliponaxis:true,
    x:p.pts.map(d=>d[0]*U), y:p.pts.map(d=>d[1]*U),
    marker:{size:6.5, color:col, opacity:0.38, line:{width:0}}});
  traces.push({type:'scatter', mode:'lines', xaxis:'x'+n, yaxis:'y'+n, hoverinfo:'skip',
    x:p.lo.map(d=>d[0]*U), y:p.lo.map(d=>d[1]*U), line:{color:'#ff0000', width:2.2}});
  annotations.push({xref:'x'+n+' domain', yref:'y'+n+' domain', x:0.05, y:0.985, xanchor:'left', yanchor:'top',
    showarrow:false, text:'ρ = ' + p.rho.toFixed(2), font:font(14,'#000','bold')});
});

// column titles and row titles
panelColNames.forEach((name, c) => text((colPx[c][0]+colPx[c][1])/2, 50, name, font(14,'#000','bold')));
panelRowNames.forEach((name, r) => text(1199, (rowPx[r][0]+rowPx[r][1])/2, name, font(14,'#000','bold'), {textangle:-90}));

// group bars around scatter grids
const topBars = [['Jiashan',391,773],['Qingpu',786,1182]];
topBars.forEach(([g, x0, x1]) => {
  shapes.push({type:'rect', xref:'paper', yref:'paper', x0:px(x0), x1:px(x1), y0:py(30), y1:py(7), fillcolor:groupColors[g], line:{width:0}, layer:'below'});
  text((x0+x1)/2, 18.5, g, font(17,'#fff','bold'));
});
const rightBars = [['Wujiang',67,484],['Jiashan',509,911]];
rightBars.forEach(([g, y0, y1]) => {
  shapes.push({type:'rect', xref:'paper', yref:'paper', x0:px(1226), x1:px(1249), y0:py(y1), y1:py(y0), fillcolor:groupColors[g], line:{width:0}, layer:'below'});
  text(1237.5, (y0+y1)/2, g, font(18,'#fff','bold'), {textangle:-90});
});

// ---------------- LEGEND ----------------
text(7, 23, 'Legend', font(28,'#000','bold'), {xanchor:'left'});
text(11, 62, 'ρ', font(19,'#000','bold'), {xanchor:'left'});
text(132, 61, 'abs( ρ)', font(18,'#000','bold'));
text(226, 66, '<i>p</i>', font(19,'#000','bold'));
const absY = [96, 138, 184, 237];
legendAbsRho.forEach((v, k) => {
  const r = 22 * Math.sqrt(v), cx = 127, cy = absY[k];
  shapes.push({type:'circle', xref:'paper', yref:'paper', x0:px(cx-r), x1:px(cx+r), y0:py(cy+r), y1:py(cy-r), line:{color:'#111', width:1.3}, fillcolor:'rgba(0,0,0,0)'});
  text(161, cy, v.toFixed(2), font(17,'#000','bold'), {xanchor:'left'});
});
const pBoxY = [[86,120],[120,154],[154,187]];
const pLabY = [103, 138, 173];
legendP.forEach((lab, k) => {
  shapes.push({type:'rect', xref:'paper', yref:'paper', x0:px(220), x1:px(254), y0:py(pBoxY[k][1]), y1:py(pBoxY[k][0]), fillcolor:legendPColors[k], line:{color:'#333', width:1}});
  text(272, pLabY[k], lab.replace('<','&lt;').replace('>','&gt;'), font(17,'#000','bold'), {xanchor:'left'});
});
shapes.push({type:'line', xref:'paper', yref:'paper', x0:px(12), x1:px(44), y0:py(294), y1:py(294), line:{color:'#ff0000', width:2}});
text(54, 294, 'LOWESS fitted curve', font(18,'#000','bold'), {xanchor:'left'});

layout.shapes = shapes;
layout.annotations = annotations;
Plotly.newPlot('chart', traces, layout, {displayModeBar:false, staticPlot:true});
</script>
</body></html>
